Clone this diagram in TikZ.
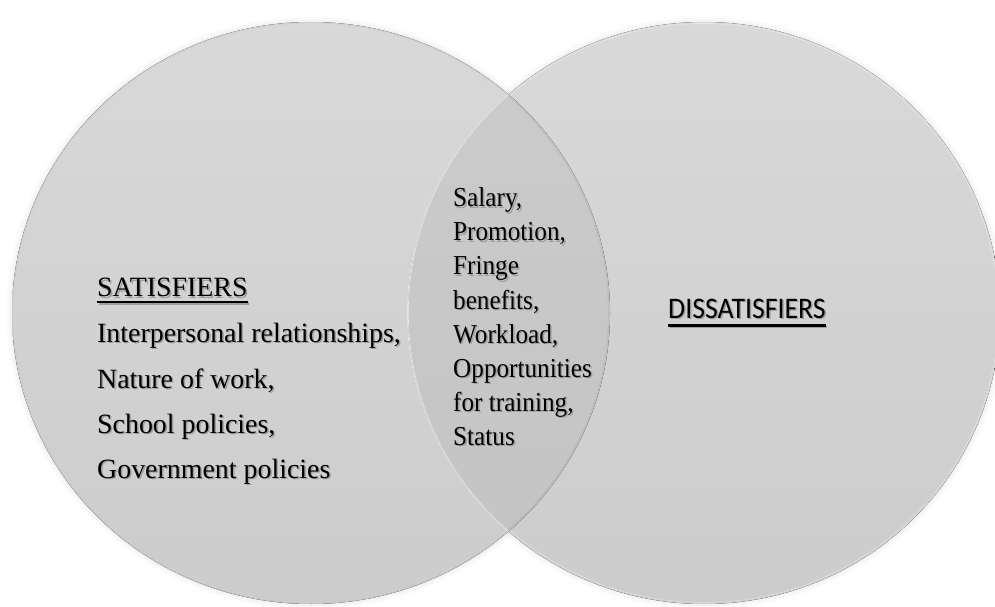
\documentclass[tikz,border=0pt]{standalone}
\usepackage{fontspec}
\setmainfont{Liberation Serif}
\newfontfamily\headsans[FakeStretch=0.93]{Carlito}
\newfontfamily\narrowserif[FakeStretch=0.92]{Liberation Serif}
\definecolor{disctop}{gray}{0.85}
\definecolor{discbot}{gray}{0.80}
\definecolor{lenstop}{gray}{0.80}
\definecolor{lensbot}{gray}{0.765}
\definecolor{halo}{gray}{0.55}
\definecolor{textshade}{gray}{0.62}
% text with a faint drop shadow set behind it
\newcommand\castshadow[1]{\makebox[0pt][l]{\kern1.5bp\raisebox{-1.5bp}{\color{textshade}#1}}#1}

\begin{document}
\begin{tikzpicture}[x=1bp,y=-1bp,
  listtext/.style={anchor=base west, inner sep=0pt, font=\fontsize{28}{34}\selectfont},
  midtext/.style={anchor=base west, inner sep=0pt, font=\narrowserif\fontsize{27.5}{34}\selectfont},
  headtext/.style={anchor=base west, inner sep=0pt, font=\headsans\fontsize{30}{36}\selectfont},
  disc/.style={top color=disctop, bottom color=discbot, draw=none},
  rule/.style={line width=2.6bp, line cap=butt}
]
\useasboundingbox (0,0) rectangle (995,607);
\fill[white] (0,0) rectangle (995,607);

% soft halo round both discs
\foreach \w/\o in {12/0.025, 8/0.03, 4/0.04} {
  \draw[halo, opacity=\o, line width=\w bp] (311,313) ellipse [x radius=299, y radius=291];
  \draw[halo, opacity=\o, line width=\w bp] (704,313) ellipse [x radius=296, y radius=291];
}

% the two discs
\fill[disc] (311,313) ellipse [x radius=299, y radius=291];
\fill[disc] (704,313) ellipse [x radius=296, y radius=291];
\draw[white, opacity=0.3, line width=0.8bp] (704,313) ellipse [x radius=294.5, y radius=289.5];
\draw[white, opacity=0.3, line width=0.8bp] (311,313) ellipse [x radius=297.5, y radius=289.5];

% overlap of the two discs
\begin{scope}
  \clip (311,313) ellipse [x radius=299, y radius=291];
  \fill[top color=lenstop, bottom color=lensbot] (704,313) ellipse [x radius=296, y radius=291];
  \draw[gray, opacity=0.12, line width=4bp] (311,313) ellipse [x radius=299, y radius=291];
  \draw[white, opacity=0.6, line width=1.3bp] (704,313) ellipse [x radius=296, y radius=291];
\end{scope}

% left list
\node[listtext] (sat)    at (97,297) {\castshadow{SATISFIERS}};
\node[listtext] (inter)  at (97,342) {\castshadow{Interpersonal relationships,}};
\node[listtext] (nature) at (97,388) {\castshadow{Nature of work,}};
\node[listtext] (school) at (97,433) {\castshadow{School policies,}};
\node[listtext] (gov)    at (97,478) {\castshadow{Government policies}};
\draw[rule, textshade] ([shift={(1.5bp,-6.5bp)}]sat.base west) -- ([shift={(1.5bp,-6.5bp)}]sat.base east);
\draw[rule] ([yshift=-5bp]sat.base west) -- ([yshift=-5bp]sat.base east);

% shared items
\node[midtext] (salary) at (453,207) {\castshadow{Salary,}};
\node[midtext] (promo)  at (453,241) {\castshadow{Promotion,}};
\node[midtext] (fringe) at (453,275) {\castshadow{Fringe}};
\node[midtext] (benef)  at (453,309) {\castshadow{benefits,}};
\node[midtext] (work)   at (453,343) {\castshadow{Workload,}};
\node[midtext] (opport) at (453,377) {\castshadow{Opportunities}};
\node[midtext] (train)  at (453,411) {\castshadow{for training,}};
\node[midtext] (status) at (453,445) {\castshadow{Status}};

% right heading
\node[headtext] (dis) at (668,318) {\castshadow{DISSATISFIERS}};
\draw[rule, line width=2.5bp, textshade] ([shift={(1.5bp,-9bp)}]dis.base west) -- ([shift={(1.5bp,-9bp)}]dis.base east);
\draw[rule, line width=2.5bp] ([yshift=-7.5bp]dis.base west) -- ([yshift=-7.5bp]dis.base east);
\end{tikzpicture}
\end{document}
